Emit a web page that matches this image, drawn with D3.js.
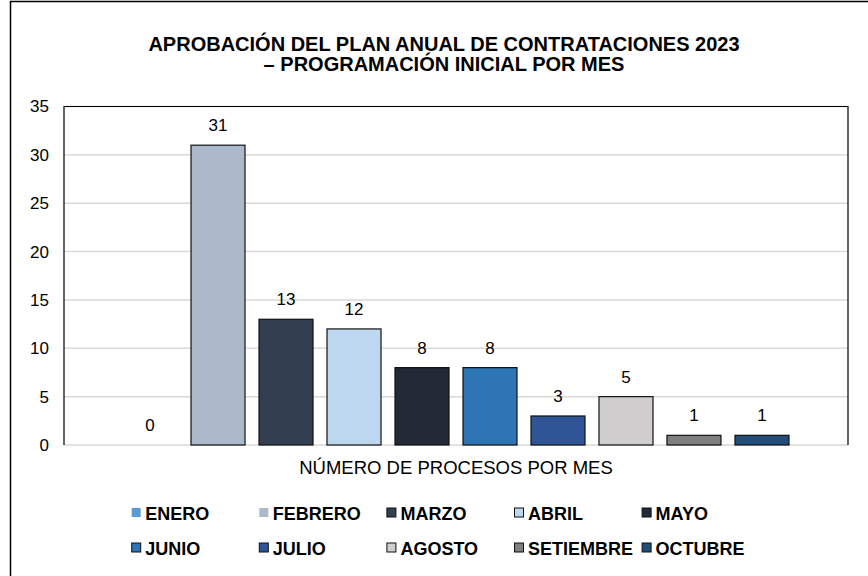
<!DOCTYPE html>
<html>
<head>
<meta charset="utf-8">
<script src="https://cdn.jsdelivr.net/npm/d3@7"></script>
<style>
  body { margin: 0; background: #fff; }
  svg { display: block; font-family: "Liberation Sans", Arial, sans-serif; }
</style>
</head>
<body>
<div class="chart"></div>
<script>
var category = 'NÚMERO DE PROCESOS POR MES';
var months = ['ENERO', 'FEBRERO', 'MARZO', 'ABRIL', 'MAYO', 'JUNIO', 'JULIO', 'AGOSTO', 'SETIEMBRE', 'OCTUBRE'];
var values = [0, 31, 13, 12, 8, 8, 3, 5, 1, 1];
var colors = ['#5B9BD5', '#ADB9CA', '#333F50', '#BDD7EE', '#222A35', '#2E75B6', '#2F5597', '#D0CECE', '#7F7F7F', '#1F4E79'];
var yTicks = [0, 5, 10, 15, 20, 25, 30, 35];

var W = 868, H = 576;
var plot = { left: 64, right: 848, top: 106.5, bottom: 445 };

var svg = d3.select('.chart').append('svg')
  .attr('width', W)
  .attr('height', H);

// outer frame (cut by the picture edges on right and bottom)
svg.append('rect')
  .attr('x', 10.5).attr('y', 1.5)
  .attr('width', W + 20).attr('height', H + 20)
  .attr('fill', '#fff')
  .attr('stroke', '#000')
  .attr('stroke-width', 1.5);

// title
svg.append('text')
  .attr('x', 444).attr('y', 51)
  .attr('text-anchor', 'middle')
  .style('font-weight', 'bold')
  .style('font-size', '20px')
  .text('APROBACIÓN DEL PLAN ANUAL DE CONTRATACIONES 2023');
svg.append('text')
  .attr('x', 444).attr('y', 71)
  .attr('text-anchor', 'middle')
  .style('font-weight', 'bold')
  .style('font-size', '20px')
  .text('– PROGRAMACIÓN INICIAL POR MES');

var y = d3.scaleLinear().domain([0, 35]).range([plot.bottom, plot.top]);

var x0 = d3.scaleBand()
  .domain([category])
  .range([plot.left, plot.right])
  .paddingInner(0)
  .paddingOuter(0.0765);

var p = 14 / 68;
var x1 = d3.scaleBand()
  .domain(months)
  .range([0, x0.bandwidth()])
  .paddingInner(p)
  .paddingOuter(p / 2);

var color = d3.scaleOrdinal().domain(months).range(colors);

// gridlines
svg.append('g')
  .attr('class', 'grid')
  .selectAll('line')
  .data(yTicks)
  .enter().append('line')
  .attr('x1', plot.left)
  .attr('x2', plot.right)
  .attr('y1', function(d) { return y(d); })
  .attr('y2', function(d) { return y(d); })
  .attr('stroke', '#D9D9D9')
  .attr('stroke-width', 1.5);

// plot border: left, top, right
svg.append('path')
  .attr('d', 'M' + plot.left + ',' + plot.bottom + 'V' + plot.top + 'H' + plot.right + 'V' + plot.bottom)
  .attr('fill', 'none')
  .attr('stroke', '#000')
  .attr('stroke-width', 1.2);

// y axis labels
var yAxis = svg.append('g')
  .attr('transform', 'translate(' + (plot.left - 15) + ',0)')
  .call(d3.axisLeft(y).tickValues(yTicks).tickSize(0).tickPadding(0));
yAxis.select('.domain').remove();
yAxis.selectAll('text')
  .style('font-family', '"Liberation Sans", Arial, sans-serif')
  .style('font-size', '17px')
  .attr('fill', '#000');

// bars
var data = months.map(function(m, i) { return { month: m, value: values[i] }; });

var group = svg.append('g')
  .attr('transform', 'translate(' + x0(category) + ',0)');

group.selectAll('rect')
  .data(data.filter(function(d) { return d.value > 0; }))
  .enter().append('rect')
  .attr('x', function(d) { return x1(d.month); })
  .attr('y', function(d) { return y(d.value); })
  .attr('width', x1.bandwidth())
  .attr('height', function(d) { return y(0) - y(d.value); })
  .attr('fill', function(d) { return color(d.month); })
  .attr('stroke', '#111')
  .attr('stroke-width', 1.2);

group.selectAll('text.val')
  .data(data)
  .enter().append('text')
  .attr('class', 'val')
  .attr('x', function(d) { return x1(d.month) + x1.bandwidth() / 2; })
  .attr('y', function(d) { return y(d.value) - 14; })
  .attr('text-anchor', 'middle')
  .style('font-size', '17px')
  .text(function(d) { return d.value; });

// category label
svg.append('text')
  .attr('x', x0(category) + x0.bandwidth() / 2)
  .attr('y', 474)
  .attr('text-anchor', 'middle')
  .style('font-size', '18.5px')
  .text(category);

// legend
var legend = svg.append('g')
  .attr('class', 'legend')
  .selectAll('g')
  .data(months)
  .enter().append('g')
  .attr('transform', function(d, i) {
    return 'translate(' + (131.7 + 127.6 * (i % 5)) + ',' + (i < 5 ? 508 : 543) + ')';
  });

legend.append('rect')
  .attr('width', 9)
  .attr('height', 9)
  .attr('fill', function(d) { return color(d); })
  .attr('stroke', function(d, i) { return i < 2 ? 'none' : '#111'; })
  .attr('stroke-width', 1);

legend.append('text')
  .attr('x', 13.5)
  .attr('y', 12)
  .style('font-weight', 'bold')
  .style('font-size', '18px')
  .text(function(d) { return d; });
</script>
</body>
</html>
